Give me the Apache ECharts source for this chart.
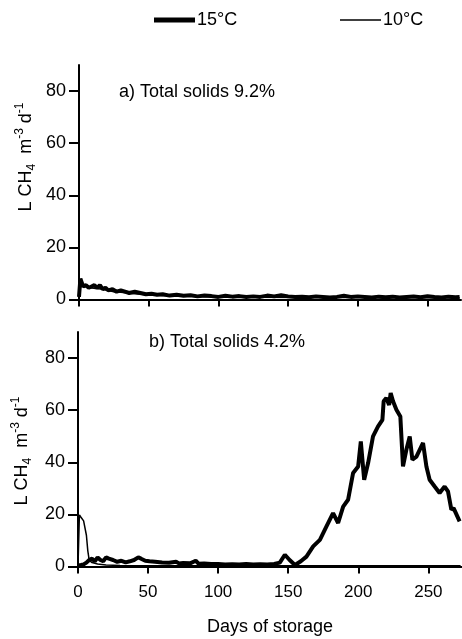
<!DOCTYPE html>
<html>
<head>
<meta charset="utf-8">
<script src="https://cdn.jsdelivr.net/npm/echarts@6/dist/echarts.min.js"></script>
<style>
  html, body { margin: 0; padding: 0; background: #fff; }
  #main { width: 462px; height: 639px; }
</style>
</head>
<body>
<div id="main"></div>
<script>
const myChart = echarts.init(document.getElementById('main'));

// a) Total solids 9.2%
const daysA15 = [0,1,2,3,5,7,9,11,13,15,17,19,21,24,27,30,33,36,40,44,48,52,56,60,65,70,75,80,85,90,95,100,105,110,115,120,125,130,135,140,145,150,155,160,165,170,175,180,185,190,195,200,205,210,215,220,225,230,235,240,245,250,255,260,265,270,273];
const ch4A15 = [1,8,6.5,5,5.5,4.5,5,5.5,4.5,5.5,4,4.5,3.5,4,3,3.5,3,2.5,3,2.5,2,2.2,1.8,2,1.5,1.8,1.4,1.6,1.2,1.5,1.3,1,1.4,1.1,1.3,1,1.2,1,1.5,1.2,1.6,1.2,1,1.1,0.9,1.2,1,0.8,1,1.4,1,1.2,1,0.8,1.1,0.9,1.1,0.8,1,1.2,0.9,1.3,1,0.8,1.1,0.9,1];
const daysA10 = [0,1,3,5,8,12,16,20,25,30,40,50,60,80,100,130,160,200,240,273];
const ch4A10 = [0,6,5,5,4.5,4.2,4,3.5,3,2.8,2.2,1.8,1.5,1.2,1,0.9,0.8,0.8,0.7,0.7];

// b) Total solids 4.2%
const daysB15 = [0,2,4,6,8,10,12,14,16,18,20,22,25,28,31,34,37,40,43,45,48,51,55,60,65,70,72,75,80,84,86,90,95,100,105,110,115,120,125,130,135,140,144,147.6,151,154.8,159,163,167.8,172.6,177.3,182,185.6,189.2,192.7,196.3,199.9,201.8,204.2,207,210.5,214.1,217.2,218.1,220,222,223.1,224.8,227.2,230,231.9,234.3,236.7,238.6,241.5,243.8,246.2,248.6,250.9,254.5,258,261.6,264,266.4,268,272.3];
const ch4B15 = [0.5,0.6,0.8,1.5,2.5,3,2,3.5,2.5,2,3.5,3,2.5,1.8,2.2,1.6,2,2.5,3.5,3,2.2,2,1.8,1.5,1.4,1.8,1.2,1.3,1.2,2.2,1.1,1.2,1,1,0.8,0.9,0.8,1,0.8,0.9,0.8,1,1.5,4.5,2.5,0.6,2,3.8,7.7,10.2,15.4,20.5,16.7,23,25.6,35.9,38.4,48,33.3,39.7,49.9,53.8,56.3,63.4,64.7,62,66.6,63.4,60.2,57.6,38.4,44.8,49.9,41,42.2,44.8,47.4,38.4,33.3,30.7,28.2,30.7,28.8,21.8,22.4,17.3];
const daysB10 = [0,1,2,4,5,6,7,8,10,14,20,30,40,60,80,100,130,160,200,240,273];
const ch4B10 = [0,19.8,19,17.5,17,12,6,2.4,1.5,1,0.6,0.4,0.3,0.3,0.3,0.3,0.3,0.3,0.3,0.3,0.3];

const yTicks = [0, 20, 40, 60, 80];
const xTicks = [0, 50, 100, 150, 200, 250];

const font = 'Liberation Sans';
const pairs = (xs, ys) => xs.map((x, i) => [x, ys[i]]);

const xAxisBase = {
    type: 'value', min: 0, max: 274,
    axisLine: { lineStyle: { color: '#000', width: 2 } },
    axisTick: { length: 7, lineStyle: { color: '#000', width: 2 }, customValues: xTicks },
    splitLine: { show: false }
};
const yAxisBase = {
    type: 'value', min: 0, max: 90,
    axisLine: { show: true, lineStyle: { color: '#000', width: 2 } },
    axisTick: { show: true, length: 10, lineStyle: { color: '#000', width: 2 }, customValues: yTicks },
    axisLabel: { customValues: yTicks, color: '#000', fontSize: 18, fontFamily: font, margin: 13 },
    splitLine: { show: false }
};

const yName = '{a|L CH}{s|4}{a|  m}{p|-3}{a| d}{p|-1}';
const yRich = {
    a: { fontSize: 18, fontFamily: font, color: '#000', lineHeight: 24, verticalAlign: 'middle' },
    s: { fontSize: 12, fontFamily: font, color: '#000', lineHeight: 24, verticalAlign: 'bottom' },
    p: { fontSize: 12, fontFamily: font, color: '#000', lineHeight: 24, verticalAlign: 'top' }
};
const txt = { fontSize: 18, fontFamily: font, fill: '#000' };

const option = {
    animation: false,
    backgroundColor: '#fff',
    textStyle: { fontFamily: font },
    title: [
        { text: 'a) Total solids 9.2%', left: 114, top: 78, textStyle: { fontSize: 18, fontWeight: 'normal', color: '#000', fontFamily: font } },
        { text: 'b) Total solids 4.2%', left: 144, top: 328, textStyle: { fontSize: 18, fontWeight: 'normal', color: '#000', fontFamily: font } }
    ],
    graphic: [
        // legend
        { type: 'line', shape: { x1: 154, y1: 20, x2: 195, y2: 20 }, style: { stroke: '#000', lineWidth: 5 } },
        { type: 'text', x: 197, y: 20, style: Object.assign({ text: '15°C', verticalAlign: 'middle' }, txt) },
        { type: 'line', shape: { x1: 340, y1: 20, x2: 381, y2: 20 }, style: { stroke: '#000', lineWidth: 1.5 } },
        { type: 'text', x: 383, y: 20, style: Object.assign({ text: '10°C', verticalAlign: 'middle' }, txt) },
        // y-axis names
        { type: 'text', x: 26, y: 157, rotation: Math.PI / 2, style: { text: yName, rich: yRich, align: 'center', verticalAlign: 'middle' } },
        { type: 'text', x: 22, y: 451, rotation: Math.PI / 2, style: { text: yName, rich: yRich, align: 'center', verticalAlign: 'middle' } }
    ],
    grid: [
        { left: 79, top: 65, width: 382, height: 234.5 },
        { left: 78, top: 332, width: 384, height: 234.5 }
    ],
    xAxis: [
        Object.assign({}, xAxisBase, { gridIndex: 0, axisLabel: { show: false } }),
        Object.assign({}, xAxisBase, {
            gridIndex: 1,
            axisLabel: { customValues: xTicks, color: '#000', fontSize: 17, fontFamily: font, margin: 17 },
            name: 'Days of storage', nameLocation: 'middle', nameGap: 52,
            nameTextStyle: { fontSize: 18, color: '#000', fontFamily: font }
        })
    ],
    yAxis: [
        Object.assign({}, yAxisBase, { gridIndex: 0 }),
        Object.assign({}, yAxisBase, { gridIndex: 1 })
    ],
    series: [
        { name: '10°C', type: 'line', xAxisIndex: 0, yAxisIndex: 0, showSymbol: false, symbol: 'none', color: '#000', lineStyle: { width: 1.5, color: '#000' }, data: pairs(daysA10, ch4A10) },
        { name: '15°C', type: 'line', xAxisIndex: 0, yAxisIndex: 0, showSymbol: false, symbol: 'none', color: '#000', lineStyle: { width: 4, color: '#000' }, data: pairs(daysA15, ch4A15) },
        { name: '10°C', type: 'line', xAxisIndex: 1, yAxisIndex: 1, showSymbol: false, symbol: 'none', color: '#000', lineStyle: { width: 1.5, color: '#000' }, data: pairs(daysB10, ch4B10) },
        { name: '15°C', type: 'line', xAxisIndex: 1, yAxisIndex: 1, showSymbol: false, symbol: 'none', color: '#000', lineStyle: { width: 4, color: '#000' }, data: pairs(daysB15, ch4B15) }
    ]
};

myChart.setOption(option);
</script>
</body>
</html>
